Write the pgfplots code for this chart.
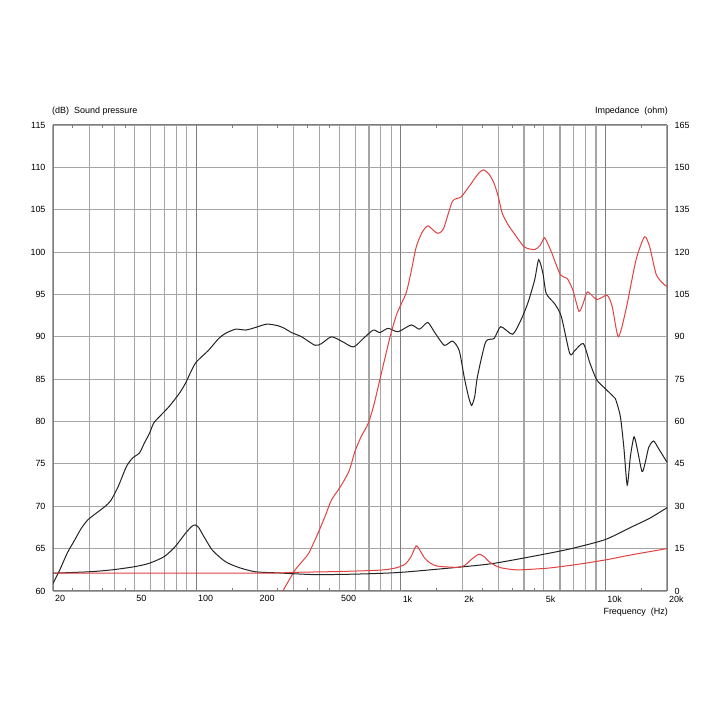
\documentclass[border=0pt]{standalone}
\usepackage{pgfplots}
\pgfplotsset{compat=1.18}
\usepackage{fontspec}
\setmainfont{Liberation Sans}
\definecolor{gridc}{RGB}{165,165,165}
\definecolor{gridd}{RGB}{125,125,125}
\definecolor{framec}{RGB}{125,125,125}
\definecolor{myred}{RGB}{225,65,65}
\definecolor{myblack}{RGB}{35,35,35}
\begin{document}
\begin{tikzpicture}
\path[use as bounding box] (0bp,0bp) rectangle (720bp,720bp);
\begin{axis}[
  at={(53bp,129bp)}, anchor=south west,
  scale only axis, width=614bp, height=466bp,
  xmode=log, xmin=20, xmax=20000,
  font=\fontsize{9}{10}\selectfont,
  /pgf/number format/assume math mode=true,
  axis line style={framec, line width=1bp},
  ymin=60, ymax=115,
  ytick={60,65,...,115},
  xtick={20,30,40,50,60,70,80,90,100,200,300,400,500,600,700,800,900,1000,2000,3000,4000,5000,6000,7000,8000,9000,10000,20000},
  xticklabels={20,,,50,,,,,100,200,,,500,,,,,1k,2k,,,5k,,,,,10k,20k},
  minor xtick={25,35,45,150,250,350,450,1500,2500,3500,4500,15000},
  extra x ticks={100,1000,10000},
  extra x tick labels={},
  extra x tick style={grid=major, major grid style={gridd, line width=1.1bp}},
  major tick length=0pt,
  minor tick length=3bp,
  minor tick style={framec, line width=0.7bp},
  xmajorgrids, ymajorgrids,
  major grid style={gridc, line width=1.1bp},
  xticklabel style={anchor=north west, xshift=-1.5bp, yshift=-1bp},
  yticklabel style={anchor=east, xshift=-4bp},
  axis y line*=left,
]
% Woofer SPL
\addplot[myblack, line width=1bp, smooth, tension=0.4] coordinates {
(20,60.9)(21.6,62.5)(23.5,64.5)(25.5,66.0)(27.5,67.4)(29.6,68.4)(33,69.3)(36,70.0)(38.4,70.7)
(41.6,72.3)(45.7,74.7)(49,75.7)(52.9,76.3)(56,77.5)(59.2,78.6)(62,79.8)(66.4,80.6)(73.7,81.75)
(82.7,83.3)(88.7,84.5)(94,85.8)(99.3,86.9)(107,87.7)(115,88.4)(129,89.8)(139,90.4)(156,90.9)
(175,90.8)(195,91.1)(222,91.5)(252,91.3)(270,91.0)(293,90.5)(328,90.0)(381,89.0)(410,89.2)
(458,90.0)(513,89.5)(587,88.8)(656,89.8)(734,90.8)(790,90.5)(867,91.0)(970,90.6)(1125,91.4)
(1234,90.9)(1354,91.7)(1458,90.6)(1632,89.0)(1790,89.5)(1930,88.4)(2040,85.3)(2140,83.0)
(2220,81.9)(2300,83.0)(2370,85.3)(2600,89.4)(2860,89.8)(3080,91.2)(3520,90.3)(3870,92.0)
(4180,94.0)(4510,96.7)(4720,99.1)(4950,97.5)(5140,95.1)(5650,93.9)(6090,92.4)(6700,88.0)
(7100,88.4)(7800,89.2)(8400,86.9)(9080,84.9)(9970,83.9)(10780,83.1)(11190,82.7)(11830,80.6)
(12300,77.0)(12780,72.5)(13250,75.9)(13800,78.2)(14300,76.8)(15090,74.1)(15600,75.0)
(16300,77.0)(17200,77.7)(18200,76.8)(20000,75.2)
};
% Tweeter SPL
\addplot[myred, line width=1bp, smooth, tension=0.4] coordinates {
(250,58.0)(266,60.0)(285,61.3)(305,62.5)(330,63.5)(355,64.45)(394,66.8)(430,69.0)(458,70.7)
(513,72.5)(560,74.2)(598,76.5)(640,78.2)(694,79.8)(740,82.0)(790,84.9)(887,90.0)(960,92.8)
(1060,95.1)(1120,97.5)(1190,100.6)(1270,102.3)(1354,103.1)(1440,102.6)(1520,102.2)(1620,102.8)
(1790,106.0)(1970,106.5)(2180,107.9)(2400,109.3)(2540,109.7)(2700,109.2)(2860,108.1)(3000,106.5)
(3130,104.6)(3350,103.2)(3580,102.2)(4020,100.6)(4510,100.3)(4800,100.8)(5030,101.7)(5250,100.9)
(5470,99.9)(6030,97.3)(6500,96.9)(6940,95.5)(7430,93.0)(7800,94.0)(8180,95.3)(9080,94.4)
(10200,94.9)(10800,93.55)(11570,90.0)(12600,93.2)(14120,99.1)(15530,101.8)(16460,100.6)
(17750,97.3)(19500,96.1)(20000,96.0)
};
\end{axis}
\begin{axis}[
  at={(53bp,129bp)}, anchor=south west,
  scale only axis, width=614bp, height=466bp,
  xmode=log, xmin=20, xmax=20000,
  font=\fontsize{9}{10}\selectfont,
  /pgf/number format/assume math mode=true,
  axis line style={framec, line width=1bp},
  ymin=0, ymax=165,
  ytick={0,15,...,165},
  axis y line*=right,
  axis x line=none,
  major tick length=0pt,
  yticklabel style={anchor=west, xshift=4bp},
]
% Woofer impedance
\addplot[myblack, line width=1bp, smooth, tension=0.4] coordinates {
(20,6.3)(30,6.8)(39,7.5)(50,8.6)(59,9.8)(70,12.2)(79,15.7)(88.7,20.4)(95,22.8)(99,23.4)
(103,22.5)(107,20.4)(120,14.5)(139,10.4)(162,8.3)(195,6.8)(252,6.4)(381,5.8)(620,6.0)
(1000,6.6)(1970,8.5)(2860,9.8)(4830,12.8)(6810,15.0)(9970,18.2)(13450,22.7)(16500,25.8)(20000,29.5)
};
% Tweeter impedance
\addplot[myred, line width=1bp, smooth, tension=0.4] coordinates {
(20,6.3)(200,6.3)(300,6.6)(500,6.9)(800,7.4)(950,8.2)(1050,9.5)(1120,12.0)(1190,16.0)
(1250,14.0)(1310,11.6)(1400,9.8)(1500,8.85)(1700,8.5)(1900,8.4)(2050,9.0)(2200,11.0)
(2400,13.0)(2550,12.2)(2700,10.4)(2900,9.0)(3100,8.2)(3500,7.6)(3870,7.5)(5250,8.1)
(7100,9.3)(10000,11.0)(13400,12.8)(20000,15.0)
};
\end{axis}
\node[anchor=west, font=\fontsize{9}{10}\selectfont, inner sep=0pt] at (52bp,609bp) {(dB)\ \ Sound pressure};
\node[anchor=east, font=\fontsize{9}{10}\selectfont, inner sep=0pt] at (668bp,609bp) {Impedance\ \ (ohm)};
\node[anchor=east, font=\fontsize{9}{10}\selectfont, inner sep=0pt] at (668bp,108bp) {Frequency\ \ (Hz)};
\end{tikzpicture}
\end{document}
